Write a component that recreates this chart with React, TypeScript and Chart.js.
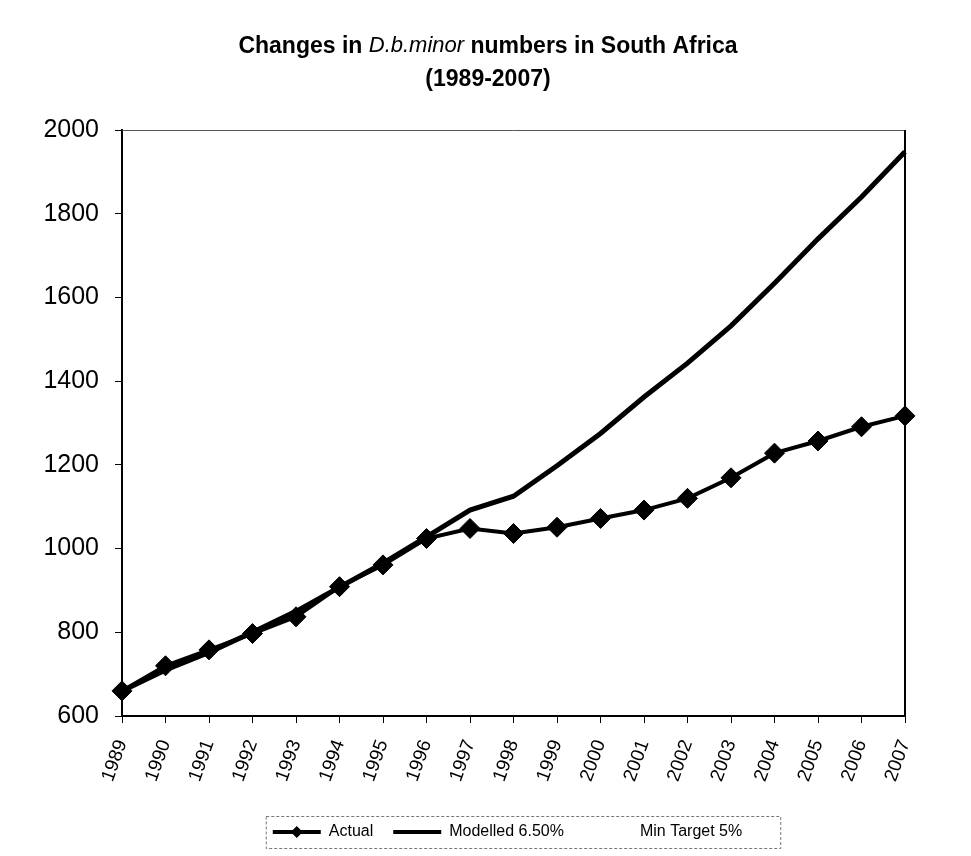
import React, { useEffect, useRef } from "react";
import { Chart, registerables } from "chart.js";
Chart.register(...registerables);

const years = ["1989", "1990", "1991", "1992", "1993", "1994", "1995", "1996", "1997", "1998", "1999", "2000", "2001", "2002", "2003", "2004", "2005", "2006", "2007"];
const actual = [660, 720, 758, 797, 837, 909, 961, 1024, 1048, 1036, 1051, 1072, 1092, 1120, 1169, 1228, 1257, 1291, 1317];
const modelled = [660, 710, 752, 800, 850, 908, 965, 1028, 1092, 1125, 1198, 1275, 1362, 1443, 1532, 1634, 1740, 1840, 1948];
const minTarget: (number | null)[] = [];
const yTicks = { min: 600, max: 2000, step: 200 };

const FONT = "'Liberation Sans', Arial, sans-serif";

const titlePlugin = {
  id: "mixedTitle",
  afterDraw(chart: any) {
    const ctx = chart.ctx;
    ctx.save();
    ctx.fillStyle = "#000";
    ctx.textBaseline = "middle";
    ctx.textAlign = "left";
    const cx = 488;
    const parts = [
      { t: "Changes in ", f: `bold 23px ${FONT}` },
      { t: "D.b.minor", f: `italic 22px ${FONT}` },
      { t: " numbers in South Africa", f: `bold 23px ${FONT}` },
    ];
    let total = 0;
    const widths = parts.map((p) => {
      ctx.font = p.f;
      const w = ctx.measureText(p.t).width;
      total += w;
      return w;
    });
    let x = cx - total / 2;
    parts.forEach((p, i) => {
      ctx.font = p.f;
      ctx.fillText(p.t, x, i === 1 ? 46 : 47);
      x += widths[i];
    });
    ctx.font = `bold 23px ${FONT}`;
    ctx.textAlign = "center";
    ctx.fillText("(1989-2007)", cx, 80);
    ctx.restore();
  },
};

const framePlugin = {
  id: "frame",
  afterLayout(chart: any) {
    const lg = chart.legend;
    if (lg) {
      lg.left += 55;
      lg.right += 55;
    }
  },
  beforeDatasetsDraw(chart: any) {
    const { ctx, chartArea: a } = chart;
    ctx.save();
    ctx.strokeStyle = "#555";
    ctx.lineWidth = 1;
    ctx.beginPath();
    ctx.moveTo(a.left, a.top + 0.5);
    ctx.lineTo(a.right, a.top + 0.5);
    ctx.stroke();
    ctx.strokeStyle = "#000";
    ctx.lineWidth = 2;
    ctx.beginPath();
    ctx.moveTo(a.right, a.top);
    ctx.lineTo(a.right, a.bottom);
    ctx.stroke();
    ctx.restore();
  },
  afterDraw(chart: any) {
    const lg = chart.legend;
    if (!lg || !lg.legendHitBoxes || !lg.legendHitBoxes.length) return;
    const ctx = chart.ctx;
    const hb = lg.legendHitBoxes;
    ctx.save();
    const b0 = hb[0];
    const bw = lg.options.labels.boxWidth;
    const cx = b0.left + bw / 2;
    const cy = b0.top + b0.height / 2;
    ctx.fillStyle = "#000";
    ctx.beginPath();
    const r = 6;
    ctx.moveTo(cx, cy - r);
    ctx.lineTo(cx + r, cy);
    ctx.lineTo(cx, cy + r);
    ctx.lineTo(cx - r, cy);
    ctx.closePath();
    ctx.fill();
    const last = hb[hb.length - 1];
    const left = b0.left - 7;
    const right = last.left + last.width + 38;
    const top = b0.top - 8;
    const bottom = b0.top + b0.height + 8;
    ctx.strokeStyle = "#777";
    ctx.lineWidth = 1;
    ctx.setLineDash([3, 2]);
    ctx.strokeRect(left + 0.5, top + 0.5, right - left, bottom - top);
    ctx.restore();
  },
};

export default function App() {
  const ref = useRef<HTMLCanvasElement | null>(null);
  useEffect(() => {
    if (!ref.current) return;
    const chart = new Chart(ref.current, {
      type: "line",
      data: {
        labels: years,
        datasets: [
          {
            label: "Actual",
            data: actual,
            borderColor: "#000",
            backgroundColor: "#000",
            borderWidth: 4,
            pointStyle: "rectRot",
            pointRadius: 10,
            pointBorderWidth: 1,
            pointBackgroundColor: "#000",
            pointBorderColor: "#000",
            tension: 0,
            order: 0,
          },
          {
            label: "Modelled 6.50%",
            data: modelled,
            borderColor: "#000",
            backgroundColor: "#000",
            borderWidth: 5,
            pointRadius: 0,
            tension: 0,
            order: 1,
          },
          {
            label: "Min Target 5%",
            data: minTarget,
            borderColor: "rgba(0,0,0,0)",
            backgroundColor: "rgba(0,0,0,0)",
            borderWidth: 0,
            pointRadius: 0,
            order: 2,
          },
        ],
      },
      options: {
        animation: false,
        responsive: true,
        maintainAspectRatio: false,
        layout: { padding: { top: 130, right: 66, bottom: 6, left: 0 } },
        plugins: {
          title: { display: false },
          tooltip: { enabled: false },
          legend: {
            display: true,
            position: "bottom",
            labels: {
              color: "#000",
              font: { family: FONT, size: 16 },
              boxWidth: 48,
              boxHeight: 4,
              padding: 20,
              generateLabels: (chart: any) =>
                chart.data.datasets.map((ds: any, i: number) => ({
                  text: ds.label,
                  fillStyle: i < 2 ? "#000" : "rgba(0,0,0,0)",
                  strokeStyle: i < 2 ? "#000" : "rgba(0,0,0,0)",
                  lineWidth: 0,
                  hidden: false,
                  datasetIndex: i,
                  fontColor: "#000",
                })),
            },
          },
        },
        scales: {
          x: {
            type: "category",
            offset: false,
            afterFit: (s: any) => {
              s.height = 88;
            },
            grid: {
              display: true,
              drawOnChartArea: false,
              drawTicks: true,
              tickLength: 7,
              color: "#000",
            },
            border: { display: true, color: "#000", width: 2 },
            ticks: {
              color: "#000",
              font: { family: FONT, size: 19 },
              minRotation: 70,
              maxRotation: 70,
              autoSkip: false,
              padding: 14,
            },
          },
          y: {
            min: yTicks.min,
            max: yTicks.max,
            afterFit: (s: any) => {
              s.width = 122;
            },
            grid: {
              display: true,
              drawOnChartArea: false,
              drawTicks: true,
              tickLength: 7,
              color: "#000",
            },
            border: { display: true, color: "#000", width: 2 },
            ticks: {
              stepSize: yTicks.step,
              color: "#000",
              font: { family: FONT, size: 25 },
              padding: 16,
              callback: (v: any) => String(v),
            },
          },
        },
      },
      plugins: [titlePlugin, framePlugin],
    });
    return () => chart.destroy();
  }, []);
  return (
    <div style={{ position: "fixed", left: 0, top: 0, width: 971, height: 856, background: "#fff" }}>
      <canvas ref={ref} />
    </div>
  );
}
